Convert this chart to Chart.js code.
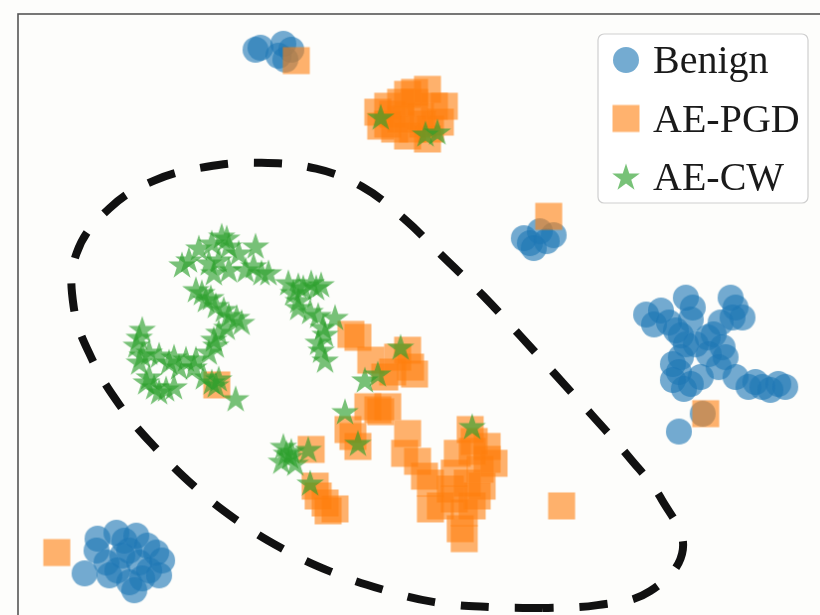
<!DOCTYPE html>
<html>
<head>
<meta charset="utf-8">
<script src="https://cdn.jsdelivr.net/npm/chart.js@4/dist/chart.umd.min.js"></script>
<style>
  html, body { margin: 0; padding: 0; background: #fdfdfb; overflow: hidden; }
  /* the frame runs past the right and bottom edge of the window, like the original crop */
  #wrap { position: absolute; left: 0; top: 0; width: 826px; height: 621px; }
</style>
</head>
<body>
<div id="wrap"><canvas id="tsne"></canvas></div>
<script>
// t-SNE embedding, arbitrary units (x: 0..80.8, y: 0..60.7)
const seriesLabels = ['Benign', 'AE-PGD', 'AE-CW'];

const benignPts = [
  [23.9,57.1],[24.4,57.3],[26.7,57.7],[27.5,57.1],[26.9,56.1],[26.2,56.5],
  [51.5,37.6],[53.9,38.4],[52.5,38.8],[50.9,38.1],[51.9,37.1],[53.2,37.8],
  [63.2,30.4],[64.7,30.8],[64.0,29.4],[67.9,31.1],[67.7,29.9],[66.2,28.8],
  [67.2,27.4],[68.2,27.4],[70.9,27.1],[71.2,26.1],[65.9,25.4],[65.9,23.8],
  [67.7,23.4],[72.2,31.1],[72.9,30.1],[71.9,30.1],[70.5,25.1],[73.5,23.1],
  [74.9,23.1],[76.5,23.4],[77.2,23.1],[68.9,20.4],[66.5,18.6],
  [65.5,29.6],[66.7,28.3],[69.4,28.1],[70.0,28.4],[70.7,29.6],[69.5,26.4],
  [72.2,24.1],[74.2,23.6],[75.7,22.8],[66.7,26.1],[66.5,24.6],[68.7,24.1],
  [67.0,22.9],[67.2,32.1],[71.7,32.1],
  [8.0,7.8],[9.9,8.4],[11.9,8.1],[13.9,6.4],[14.5,5.6],[9.2,4.1],
  [11.2,3.4],[12.5,3.8],[10.5,6.1],[12.2,5.4],[8.9,5.4],[6.7,4.3],
  [10.7,7.6],[13.0,7.1],[10.0,4.6],[13.2,4.6],[11.7,2.6],[7.9,6.6],
  [14.2,4.1],[11.2,6.6]
];

const pgdPts = [
  [28.0,56.0],
  [41.2,53.1],[39.9,52.8],[38.5,51.8],[37.2,51.4],[36.2,50.8],[36.5,49.4],
  [37.9,49.1],[39.2,48.4],[41.2,48.1],[41.9,51.4],[42.9,51.4],[42.5,49.8],
  [40.5,50.4],[38.5,50.1],[39.9,51.8],[41.5,49.1],
  [37.7,50.6],[40.7,49.6],[39.2,52.6],[39.7,49.1],[37.2,49.6],
  [53.4,40.3],[69.2,20.4],[3.9,6.4],[54.7,11.1],[20.0,23.3],
  [33.5,28.4],[35.5,25.8],[39.2,26.8],[39.5,25.1],[39.9,24.4],[36.9,24.1],
  [35.2,21.1],[36.2,20.8],[36.5,20.6],[33.2,18.8],[34.2,17.1],[29.5,16.8],
  [29.9,13.1],[30.9,11.4],[31.9,10.8],[39.2,18.4],[38.9,16.4],[40.9,14.1],
  [41.5,13.4],[41.5,10.8],[44.2,16.4],[45.5,18.8],[45.9,17.6],[47.2,15.8],
  [47.9,15.4],[43.9,14.4],[45.2,13.4],[46.2,12.1],[43.9,11.8],[44.9,10.4],
  [44.5,8.8],[44.9,7.8],[42.5,11.1],[46.5,14.8],[43.5,12.8],
  [45.7,16.6],[46.7,13.1],[47.2,17.1],[45.7,11.1],[40.2,15.6],
  [38.2,26.1],[37.7,24.6],[34.2,28.1],[37.2,21.1],[33.7,18.1],[30.2,12.1],
  [31.2,10.6]
];

const cwPts = [
  [36.5,50.3],[41.0,48.6],[42.2,48.8],
  [20.5,38.3],[19.5,37.6],[21.2,37.3],[23.9,37.3],[16.5,35.4],[19.2,35.6],
  [20.2,35.9],[21.2,34.9],[22.9,34.9],[24.5,34.6],[17.9,32.9],[18.9,31.9],
  [19.9,31.3],[21.2,30.3],[22.5,29.6],[20.2,28.6],[19.9,27.3],[12.5,28.9],
  [11.9,27.3],[12.5,26.3],[14.2,26.3],[15.2,25.6],[16.9,25.9],[17.9,25.9],
  [12.9,23.6],[14.9,22.9],[14.2,22.6],[19.5,23.6],[19.9,23.3],[21.9,21.9],
  [18.2,37.1],[22.2,36.6],[17.2,35.9],[19.7,34.6],[23.7,35.3],[25.2,34.6],
  [21.0,38.1],[18.5,32.6],[19.4,32.1],[20.7,30.9],[22.0,30.1],[21.0,29.1],
  [19.7,27.9],[19.2,26.6],[12.2,28.1],[13.2,26.6],[15.7,26.1],[16.2,25.1],
  [17.7,25.1],[13.2,24.1],[13.7,23.1],[15.7,23.1],[18.7,24.1],[20.2,23.9],
  [12.2,25.6],
  [28.2,33.3],[29.5,33.6],[30.5,33.4],[28.2,31.8],[29.4,30.7],[31.9,30.1],
  [27.7,32.6],[28.7,33.1],[30.0,33.1],[28.2,31.1],[30.2,30.3],[30.2,27.6],
  [30.7,29.1],[27.2,33.6],
  [30.9,28.4],[30.5,26.8],[30.9,25.8],[38.5,27.1],[36.2,24.4],[34.9,23.8],
  [32.9,20.6],[34.2,17.4],[27.0,16.4],[29.2,16.8],[27.9,15.4],[27.4,16.1],
  [26.7,17.1],[26.5,15.6],[27.5,16.6],
  [29.4,13.4],[45.7,19.1]
];

// hand-drawn dashed region around the adversarial samples (starts on the flat bottom)
const regionPts = [
  [52.8,0.8],[47.4,0.9],[41.9,1.4],[36.6,2.7],[31.4,4.5],[26.4,6.9],
  [21.8,9.8],[17.7,13.1],[13.7,17.1],[10.2,21.3],[7.4,26.0],[5.6,31.2],
  [5.9,36.6],[9.2,41.1],[13.7,43.9],[19.0,45.3],[24.5,45.7],[30.0,45.1],
  [34.6,43.3],[38.8,40.1],[42.9,36.1],[46.8,32.3],[50.5,28.3],[54.2,24.2],
  [57.8,20.2],[61.5,16.0],[64.8,11.7],[66.9,6.7],[63.6,2.5],[58.3,1.1],
  [52.8,0.8]
];

const toXY = pts => pts.map(p => ({ x: p[0], y: p[1] }));

// marker sprites (matplotlib-like, alpha baked in)
function makeMarker(shape, color) {
  const c = document.createElement('canvas');
  c.width = c.height = 32;
  const g = c.getContext('2d');
  g.fillStyle = color;
  g.beginPath();
  if (shape === 'circle') {
    g.arc(16, 16, 13, 0, Math.PI * 2);
  } else if (shape === 'square') {
    g.rect(2.5, 2.5, 27, 27);
  } else {
    const R = 14.5, r = R * 0.382;
    for (let i = 0; i < 10; i++) {
      const a = -Math.PI / 2 + i * Math.PI / 5;
      const rad = i % 2 ? r : R;
      g.lineTo(16 + rad * Math.cos(a), 17 + rad * Math.sin(a));
    }
    g.closePath();
  }
  g.fill();
  return c;
}

const markers = [
  makeMarker('circle', 'rgba(31,119,180,0.62)'),
  makeMarker('square', 'rgba(255,127,14,0.6)'),
  makeMarker('star', 'rgba(44,160,44,0.64)')
];

// frame + legend box inside the plot
const framePlugin = {
  id: 'frame',
  beforeDatasetsDraw(chart) {
    const { ctx, chartArea: a } = chart;
    ctx.save();
    ctx.strokeStyle = '#555';
    ctx.lineWidth = 1.6;
    ctx.strokeRect(a.left, a.top, a.right - a.left, a.bottom - a.top);
    ctx.restore();
  },
  afterDraw(chart) {
    const ctx = chart.ctx;
    const bx = 598, by = 34, bw = 210, bh = 169;
    ctx.save();
    ctx.fillStyle = 'rgba(255,255,255,0.85)';
    ctx.strokeStyle = '#cfcfcf';
    ctx.lineWidth = 1.2;
    ctx.beginPath();
    ctx.roundRect(bx, by, bw, bh, 6);
    ctx.fill();
    ctx.stroke();
    ctx.font = '40px "Liberation Serif", "DejaVu Serif", serif';
    ctx.fillStyle = '#1a1a1a';
    ctx.textBaseline = 'alphabetic';
    seriesLabels.forEach((lab, i) => {
      const cy = 60 + i * 58.5;
      const m = markers[i];
      ctx.drawImage(m, 626 - m.width / 2, cy - m.height / 2);
      ctx.fillText(lab, 653, cy + 13);
    });
    ctx.restore();
  }
};

new Chart(document.getElementById('tsne'), {
  type: 'scatter',
  data: {
    datasets: [
      { label: seriesLabels[0], data: toXY(benignPts), pointStyle: markers[0], order: 3 },
      { label: seriesLabels[1], data: toXY(pgdPts), pointStyle: markers[1], order: 2 },
      { label: seriesLabels[2], data: toXY(cwPts), pointStyle: markers[2], order: 1 },
      {
        label: 'region',
        data: toXY(regionPts),
        showLine: true,
        pointRadius: 0,
        borderColor: '#111',
        borderWidth: 8,
        borderDash: [28, 26],
        borderCapStyle: 'butt',
        tension: 0.4,
        order: 0
      }
    ]
  },
  options: {
    responsive: true,
    maintainAspectRatio: false,
    animation: false,
    layout: { padding: { left: 18, top: 14, right: 0, bottom: 0 } },
    plugins: {
      legend: { display: false },
      tooltip: { enabled: false }
    },
    scales: {
      x: { type: 'linear', min: 0, max: 80.8, display: false },
      y: { type: 'linear', min: 0, max: 60.7, display: false }
    }
  },
  plugins: [framePlugin]
});
</script>
</body>
</html>
